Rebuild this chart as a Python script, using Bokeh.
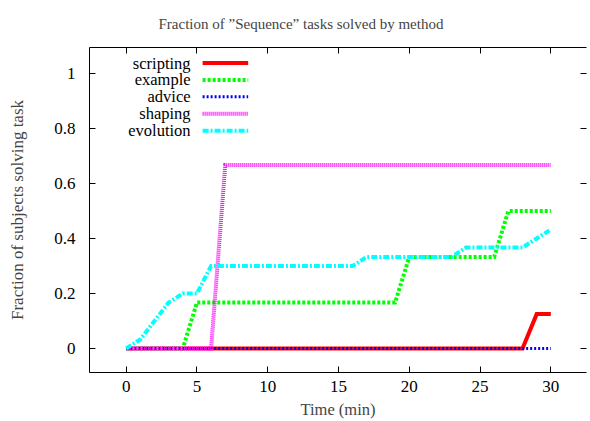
from bokeh.plotting import figure
from bokeh.models import (Range1d, LinearAxis, FixedTicker, Label, ColumnDataSource, Title,
                          CustomLabelingPolicy)
from bokeh.embed import file_html
from bokeh.resources import INLINE

# ---- data ----
time_min = [0, 1, 2, 3, 4, 5, 6, 7, 8, 9, 10, 11, 12, 13, 14, 15,
            16, 17, 18, 19, 20, 21, 22, 23, 24, 25, 26, 27, 28, 29, 30]
scripting = [0, 0, 0, 0, 0, 0, 0, 0, 0, 0, 0, 0, 0, 0, 0, 0,
             0, 0, 0, 0, 0, 0, 0, 0, 0, 0, 0, 0, 0, 0.125, 0.125]
example = [0, 0, 0, 0, 0, 0.167, 0.167, 0.167, 0.167, 0.167, 0.167, 0.167, 0.167, 0.167, 0.167, 0.167,
           0.167, 0.167, 0.167, 0.167, 0.333, 0.333, 0.333, 0.333, 0.333, 0.333, 0.333, 0.5, 0.5, 0.5, 0.5]
advice = [0, 0, 0, 0, 0, 0, 0, 0, 0, 0, 0, 0, 0, 0, 0, 0,
          0, 0, 0, 0, 0, 0, 0, 0, 0, 0, 0, 0, 0, 0, 0]
shaping = [0, 0, 0, 0, 0, 0, 0, 0.667, 0.667, 0.667, 0.667, 0.667, 0.667, 0.667, 0.667, 0.667,
           0.667, 0.667, 0.667, 0.667, 0.667, 0.667, 0.667, 0.667, 0.667, 0.667, 0.667, 0.667, 0.667, 0.667, 0.667]
evolution = [0, 0.033, 0.1, 0.167, 0.2, 0.2, 0.3, 0.3, 0.3, 0.3, 0.3, 0.3, 0.3, 0.3, 0.3, 0.3,
             0.3, 0.333, 0.333, 0.333, 0.333, 0.333, 0.333, 0.333, 0.367, 0.367, 0.367, 0.367, 0.367, 0.4, 0.433]

series_names = ["scripting", "example", "advice", "shaping", "evolution"]
x_ticks = [0, 5, 10, 15, 20, 25, 30]
y_ticks = [0, 0.2, 0.4, 0.6, 0.8, 1]
y_tick_labels = ["0", "0.2", "0.4", "0.6", "0.8", "1"]

title_text = "Fraction of \u201dSequence\u201d tasks solved by method"
x_label = "Time (min)"
y_label = "Fraction of subjects solving task"

# ---- styles ----
FONT = "Times"
styles = {
    "scripting": dict(line_color="#ff0000", line_width=4, line_dash="solid"),
    "example": dict(line_color="#00ff00", line_width=4, line_dash="3 2"),
    "advice": dict(line_color="#0000ff", line_width=3, line_dash="2 2"),
    "shaping": dict(line_color="#ff00ff", line_width=4, line_dash="1 1"),
    "evolution": dict(line_color="#00ffff", line_width=4, line_dash="6 2 2 2"),
}

src = ColumnDataSource(dict(t=time_min, scripting=scripting, example=example,
                            advice=advice, shaping=shaping, evolution=evolution))

p = figure(width=590, height=421, output_backend="svg", toolbar_location=None,
           x_range=Range1d(-2.59, 32.52), y_range=Range1d(-0.0873, 1.0945),
           min_border_left=89, min_border_top=47, min_border_bottom=49, min_border_right=0,
           x_axis_type=None, y_axis_type=None)
p.grid.visible = False
p.outline_line_color = None
p.background_fill_color = "white"
p.border_fill_color = "white"

HIDE_ALL = "for (const i of indices) indices.unset(i)"

def style_axis(ax, labels=True):
    ax.major_tick_in = 6
    ax.major_tick_out = 0
    ax.minor_tick_in = 0
    ax.minor_tick_out = 0
    ax.axis_line_color = "black"
    ax.major_tick_line_color = "black"
    ax.major_label_text_font = FONT
    ax.major_label_text_color = "black"
    ax.major_label_text_font_size = "17px"
    if not labels:
        ax.major_label_text_font_size = "1px"
        ax.major_label_standoff = 0
        ax.major_label_policy = CustomLabelingPolicy(code=HIDE_ALL)

xb = LinearAxis(ticker=FixedTicker(ticks=x_ticks))
style_axis(xb)
xb.major_label_standoff = 8
xb.axis_label = x_label
xb.axis_label_text_font = FONT
xb.axis_label_text_font_style = "normal"
xb.axis_label_text_font_size = "16.5px"
xb.axis_label_standoff = 5
p.add_layout(xb, "below")

xt = LinearAxis(ticker=FixedTicker(ticks=x_ticks))
style_axis(xt, labels=False)
p.add_layout(xt, "above")

yl = LinearAxis(ticker=FixedTicker(ticks=y_ticks))
style_axis(yl)
yl.major_label_overrides = {v: s for v, s in zip(y_ticks, y_tick_labels)}
yl.major_label_standoff = 14
yl.axis_label = y_label
yl.axis_label_text_font = FONT
yl.axis_label_text_font_style = "normal"
yl.axis_label_text_font_size = "17px"
yl.axis_label_standoff = 24
p.add_layout(yl, "left")

yr = LinearAxis(ticker=FixedTicker(ticks=y_ticks))
style_axis(yr, labels=False)
yr.axis_line_color = None
p.add_layout(yr, "right")

p.title = Title(text=title_text, text_font=FONT, text_font_size="15px",
                text_font_style="normal", align="left", offset=69, standoff=24)

for name in series_names:
    p.line("t", name, source=src, line_cap="butt", line_join="miter", **styles[name])

# ---- legend (text left of sample, like the original) ----
LEG_TEXT_X = 4.55
LEG_X0, LEG_X1 = 5.40, 8.62
LEG_Y0, LEG_DY = 1.038, 0.0615
for i, name in enumerate(series_names):
    yy = LEG_Y0 - i * LEG_DY
    p.add_layout(Label(x=LEG_TEXT_X, y=yy, text=name, text_align="right",
                       text_baseline="middle", text_font=FONT,
                       text_font_size="16.5px", text_color="black"))
    p.line([LEG_X0, LEG_X1], [yy, yy], line_cap="butt", **styles[name])

open("out.html", "w").write(file_html(p, INLINE))
